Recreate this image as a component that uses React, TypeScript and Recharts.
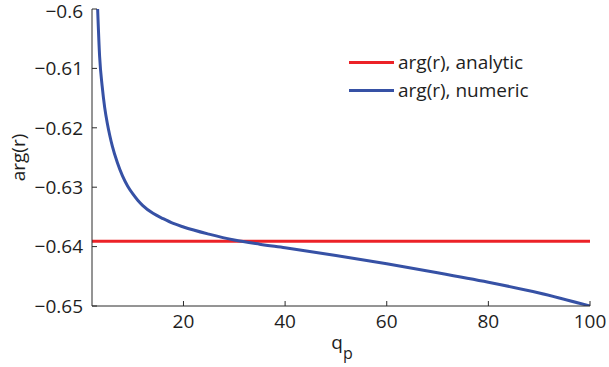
import React from 'react';
import { LineChart, Line, XAxis, YAxis, Legend } from 'recharts';

// ---- data ----
const qp = [
  2, 3, 3.5, 4, 4.5, 5, 5.5, 6, 7, 8, 9, 10, 11, 12, 14, 16, 18, 20, 25, 30, 35, 40, 50, 60, 70, 80, 90, 100,
];
const argNumeric = [
  -0.572, -0.5975, -0.608, -0.613, -0.6166, -0.6192, -0.6213, -0.6231, -0.6259, -0.6281, -0.6298, -0.6311,
  -0.6322, -0.6331, -0.6344, -0.6353, -0.6361, -0.6367, -0.6379, -0.6389, -0.6396, -0.6402, -0.6415,
  -0.6429, -0.6444, -0.646, -0.6478, -0.65,
];
const analyticQ = [2, 100];
const argAnalytic = [-0.6391, -0.6391];

const xTicks = [20, 40, 60, 80, 100];
const yTicks = [-0.65, -0.64, -0.63, -0.62, -0.61, -0.6];
const yTickLabels = ['\u22120.65', '\u22120.64', '\u22120.63', '\u22120.62', '\u22120.61', '\u22120.6'];

const seriesNames = ['arg(r), analytic', 'arg(r), numeric'];
const seriesColors = ['#ec2227', '#3651a5'];

const numericData = qp.map((q, i) => ({ q, v: argNumeric[i] }));
const analyticData = analyticQ.map((q, i) => ({ q, v: argAnalytic[i] }));

const FONT = '"Open Sans", "Noto Sans", sans-serif';
const AXIS = '#2b2b2b';
const TEXT = '#1e1e1e';

const yFmt = (v: number) => {
  const i = yTicks.findIndex((t) => Math.abs(t - v) < 1e-9);
  return i >= 0 ? yTickLabels[i] : String(v);
};

const NoTick = () => <g />;

const LegendBox = () => (
  <div style={{ fontFamily: FONT, fontSize: 19, color: TEXT }}>
    {seriesNames.map((n, i) => (
      <div key={n} style={{ display: 'flex', alignItems: 'center', height: 28, whiteSpace: 'nowrap' }}>
        <div style={{ width: 45, height: 3, background: seriesColors[i], marginRight: 4 }} />
        <span>{n}</span>
      </div>
    ))}
  </div>
);

const XLabel = (props: any) => {
  const vb = props.viewBox || { x: 92, width: 498, y: 306 };
  const cx = vb.x + vb.width / 2;
  return (
    <text x={cx + 1} y={349} textAnchor="middle" fontFamily={FONT} fill={TEXT}>
      <tspan fontSize={19}>q</tspan>
      <tspan fontSize={16} dy={10}>p</tspan>
    </text>
  );
};

const YLabel = (props: any) => {
  const vb = props.viewBox || { y: 9, height: 297 };
  const cy = vb.y + vb.height / 2;
  return (
    <text
      x={25}
      y={cy}
      transform={`rotate(-90 25 ${cy})`}
      textAnchor="middle"
      fontFamily={FONT}
      fontSize={19}
      fill={TEXT}
    >
      arg(r)
    </text>
  );
};

export default function App() {
  return (
    <div style={{ position: 'absolute', left: 0, top: 0, width: 609, height: 367, background: '#fff' }}>
      <LineChart width={609} height={367} margin={{ top: 9, right: 19, bottom: 21, left: 0 }}>
        <XAxis
          xAxisId="b"
          dataKey="q"
          type="number"
          domain={[2, 100]}
          ticks={xTicks}
          allowDataOverflow
          height={40}
          tickSize={-5}
          tickMargin={14}
          stroke={AXIS}
          tick={{ fill: TEXT, fontSize: 19, fontFamily: FONT }}
          label={<XLabel />}
        />
        <XAxis
          xAxisId="t"
          orientation="top"
          dataKey="q"
          type="number"
          domain={[2, 100]}
          ticks={xTicks}
          allowDataOverflow
          height={0}
          tickSize={-5}
          stroke={AXIS}
          tick={NoTick}
        />
        <YAxis
          yAxisId="l"
          type="number"
          domain={[-0.65, -0.6]}
          ticks={yTicks}
          allowDataOverflow
          width={92}
          tickSize={-5}
          tickMargin={14}
          tickFormatter={yFmt}
          stroke={AXIS}
          tick={{ fill: TEXT, fontSize: 19, fontFamily: FONT }}
          label={<YLabel />}
        />
        <YAxis
          yAxisId="r"
          orientation="right"
          type="number"
          domain={[-0.65, -0.6]}
          ticks={yTicks}
          allowDataOverflow
          width={0}
          tickSize={-5}
          stroke={AXIS}
          tick={NoTick}
        />
        <Legend
          layout="vertical"
          align="center"
          verticalAlign="middle"
          content={<LegendBox />}
          wrapperStyle={{ left: 349, top: 48, width: 'auto', height: 'auto' }}
        />
        <Line
          xAxisId="b"
          yAxisId="l"
          data={analyticData}
          dataKey="v"
          name={seriesNames[0]}
          stroke={seriesColors[0]}
          strokeWidth={3}
          dot={false}
          activeDot={false}
          type="linear"
          isAnimationActive={false}
        />
        <Line
          xAxisId="b"
          yAxisId="l"
          data={numericData}
          dataKey="v"
          name={seriesNames[1]}
          stroke={seriesColors[1]}
          strokeWidth={3}
          dot={false}
          activeDot={false}
          type="monotone"
          isAnimationActive={false}
        />
      </LineChart>
    </div>
  );
}
